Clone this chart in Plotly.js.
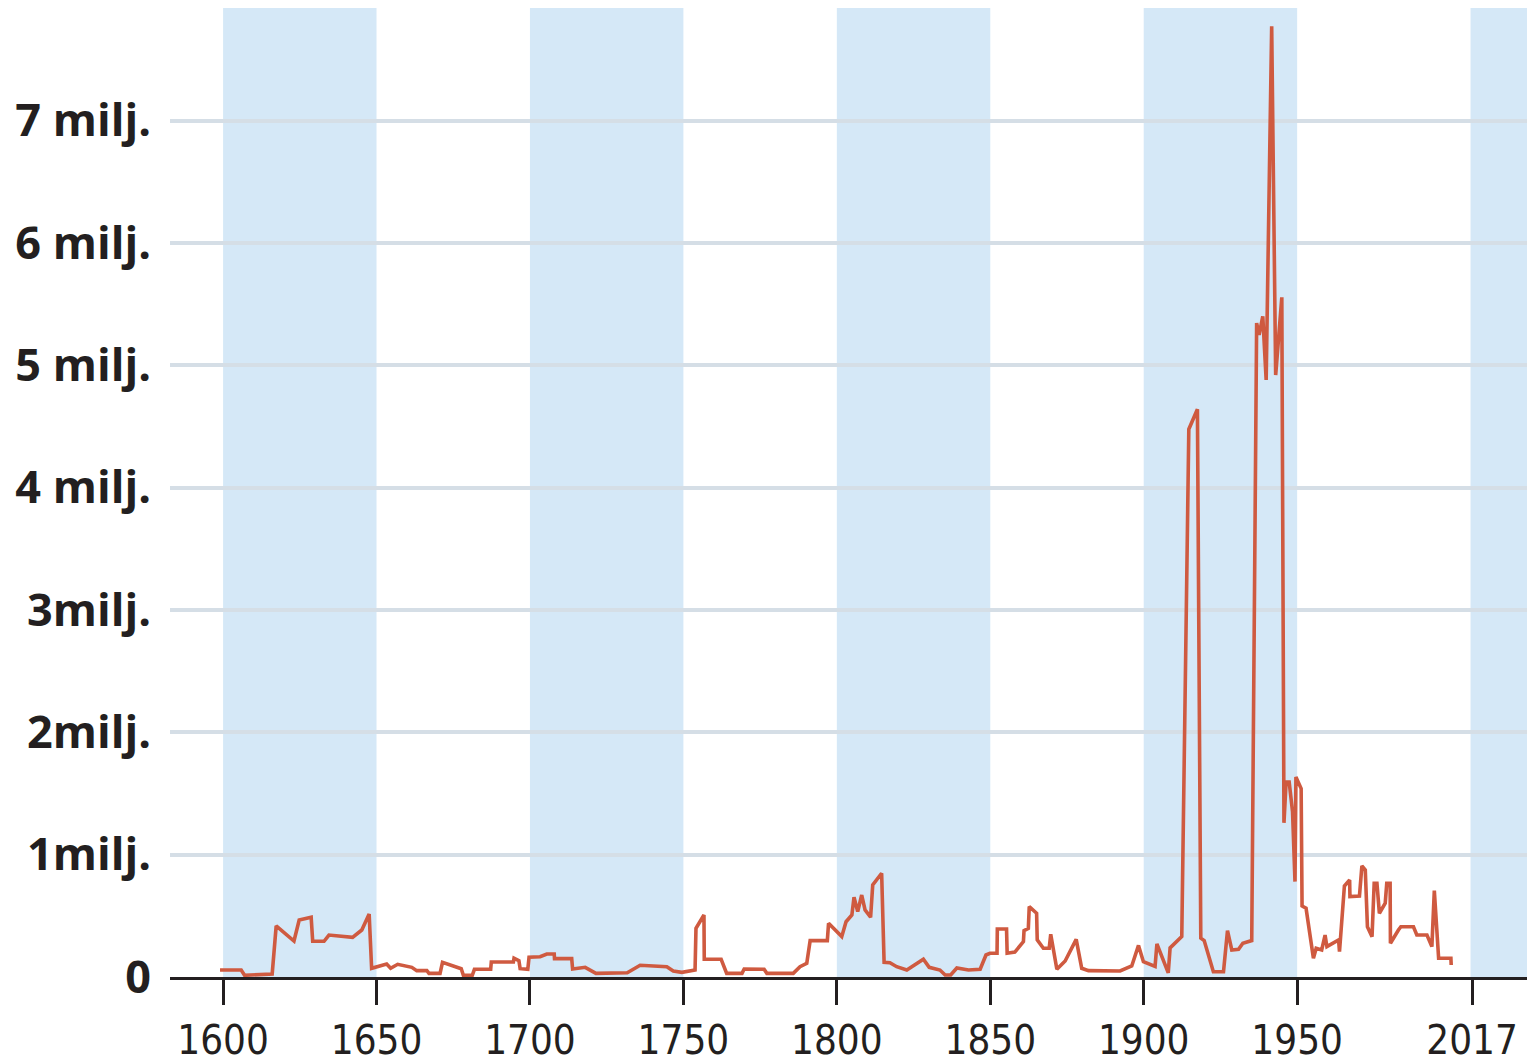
<!DOCTYPE html>
<html>
<head>
<meta charset="utf-8">
<script src="https://cdn.plot.ly/plotly-3.0.1.min.js"></script>
<style>
html,body{margin:0;padding:0;background:#fff;}
#chart{width:1527px;height:1064px;}
</style>
</head>
<body>
<div id="chart"></div>
<script>
// Year of each reading
const years = [
  1599, 1605.9, 1607, 1616, 1617.3, 1623.1, 1624.8, 1628.7, 1629.2, 1632.9, 1634.5, 1642.2, 1645.2, 1647.6, 1648.4,
  1650.1, 1653.3, 1654.6, 1656.9, 1661.5, 1663.1, 1666.4, 1667.1, 1670.7, 1671.5, 1677.6, 1678.3, 1681.2, 1681.9,
  1687.2, 1687.4, 1694.6, 1694.8, 1696.4, 1696.8, 1699.3, 1699.7, 1703.3, 1705.5, 1707.9, 1708.0, 1713.6, 1713.9,
  1718, 1721.5, 1731.7, 1735.9, 1744.6, 1746.7, 1749.5, 1753.8, 1754.1, 1756.7, 1756.8, 1762.3, 1764.1, 1769.1,
  1769.8, 1776.3, 1777.2, 1785.8, 1788, 1790.2, 1791.3, 1796.9, 1797.3, 1801.6, 1803, 1804.9, 1805.6, 1806.8,
  1808.1, 1809.2, 1811, 1811.7, 1814.6, 1815.4, 1817.3, 1819.5, 1822.8, 1828.2, 1830.1, 1833.6, 1835.3, 1837.1,
  1839.1, 1842.9, 1846.7, 1848.6, 1849.9, 1852.2, 1852.3, 1855.3, 1855.5, 1858, 1860.8, 1861, 1862.4, 1862.7,
  1865.1, 1865.3, 1867.3, 1869.2, 1869.7, 1871.7, 1874.4, 1878, 1879.8, 1882, 1892.3, 1896.1, 1898.3, 1899.9,
  1903.7, 1904.3, 1908, 1908.6, 1912.4, 1914.7, 1917.5, 1918.6, 1919.7, 1922.7, 1926, 1927.3, 1928.7, 1930.9,
  1932.3, 1935.2, 1936.8, 1937.6, 1938.8, 1939.9, 1941.7, 1943, 1945, 1945.7, 1946.4, 1947.4, 1948.5, 1949.3,
  1949.6, 1951.3, 1951.6, 1952.9, 1955.3, 1956.2, 1958, 1959.1, 1959.7, 1963.5, 1963.8, 1965.4, 1967.1, 1967.2,
  1970.3, 1971.1, 1972.2, 1972.9, 1974.4, 1975.1, 1976, 1976.8, 1978.7, 1979.2, 1980.3, 1980.4, 1983, 1983.8,
  1987.9, 1989, 1992.3, 1993.9, 1994.7, 1996.1, 2000.1, 2000.2
];
// Deaths, millions
const deaths = [
  0.057, 0.057, 0.014, 0.025, 0.417, 0.294, 0.466, 0.488, 0.292, 0.292, 0.343, 0.324, 0.384, 0.515, 0.071,
  0.084, 0.106, 0.071, 0.104, 0.079, 0.052, 0.052, 0.030, 0.030, 0.120, 0.068, 0.014, 0.014, 0.063,
  0.063, 0.123, 0.123, 0.153, 0.133, 0.068, 0.063, 0.161, 0.166, 0.188, 0.188, 0.150, 0.150, 0.065,
  0.079, 0.030, 0.035, 0.096, 0.084, 0.049, 0.038, 0.057, 0.398, 0.507, 0.145, 0.145, 0.030, 0.030,
  0.065, 0.063, 0.030, 0.030, 0.084, 0.112, 0.297, 0.297, 0.439, 0.330, 0.452, 0.507, 0.652, 0.534,
  0.670, 0.548, 0.488, 0.752, 0.848, 0.120, 0.117, 0.084, 0.057, 0.145, 0.079, 0.057, 0.016, 0.016,
  0.074, 0.057, 0.063, 0.180, 0.194, 0.194, 0.392, 0.392, 0.194, 0.204, 0.289, 0.379, 0.398, 0.575,
  0.521, 0.303, 0.235, 0.235, 0.349, 0.063, 0.131, 0.308, 0.071, 0.052, 0.049, 0.090, 0.258, 0.125,
  0.086, 0.271, 0.034, 0.238, 0.331, 4.477, 4.640, 0.318, 0.298, 0.043, 0.043, 0.379, 0.221, 0.227,
  0.276, 0.298, 5.345, 5.249, 5.400, 4.880, 7.770, 4.920, 5.555, 1.260, 1.594, 1.594, 1.350, 0.780,
  1.635, 1.540, 0.580, 0.562, 0.153, 0.235, 0.221, 0.343, 0.248, 0.303, 0.207, 0.744, 0.793, 0.657,
  0.662, 0.908, 0.875, 0.411, 0.330, 0.766, 0.766, 0.521, 0.603, 0.766, 0.766, 0.276, 0.384, 0.411,
  0.411, 0.343, 0.343, 0.248, 0.706, 0.153, 0.153, 0.098
];

// Axis ticks
const xTickVals = [1600, 1650, 1700, 1750, 1800, 1850, 1900, 1950, 2007];
const xTickText = ['1600', '1650', '1700', '1750', '1800', '1850', '1900', '1950', '2017'];
const yTickVals = [0, 1, 2, 3, 4, 5, 6, 7];
const yTickText = ['0', '1milj.', '2milj.', '3milj.', '4 milj.', '5 milj.', '6 milj.', '7 milj.'];

// Shaded half-century bands
const bandStarts = [1600, 1700, 1800, 1900, 2006.5];
const bandEnds = [1650, 1750, 1850, 1950, 2030];

const shapes = bandStarts.map((s, i) => ({
  type: 'rect', xref: 'x', yref: 'paper',
  x0: s, x1: bandEnds[i], y0: 0, y1: 1,
  fillcolor: '#d5e8f7', line: {width: 0}, layer: 'below'
}));

const trace = {
  x: years, y: deaths, type: 'scatter', mode: 'lines',
  line: {color: '#cf5a40', width: 3.6},
  hoverinfo: 'skip'
};

const layout = {
  width: 1527, height: 1064,
  margin: {l: 170, r: 0, t: 8, b: 87},
  paper_bgcolor: '#ffffff', plot_bgcolor: '#ffffff',
  showlegend: false,
  shapes: shapes,
  xaxis: {
    range: [1582.7, 2024.9],
    tickvals: xTickVals, ticktext: xTickText,
    showgrid: false, zeroline: false,
    showline: true, linecolor: '#231f20', linewidth: 3,
    ticks: 'outside', ticklen: 25, tickwidth: 3, tickcolor: '#231f20',
    ticklabelstandoff: 1,
    tickfont: {family: '"DejaVu Sans Condensed", "Liberation Sans Narrow", "Roboto", sans-serif', size: 40, color: '#231f20'}
  },
  yaxis: {
    range: [0, 7.92],
    tickvals: yTickVals, ticktext: yTickText,
    showgrid: true, gridcolor: '#d5dee6', gridwidth: 4,
    zeroline: false, showline: false, ticks: '',
    ticklabelstandoff: 18,
    tickfont: {family: '"Open Sans", sans-serif', size: 45, color: '#231f20', weight: 'bold'}
  }
};

Plotly.newPlot('chart', [trace], layout, {displayModeBar: false, staticPlot: true});
</script>
</body>
</html>
